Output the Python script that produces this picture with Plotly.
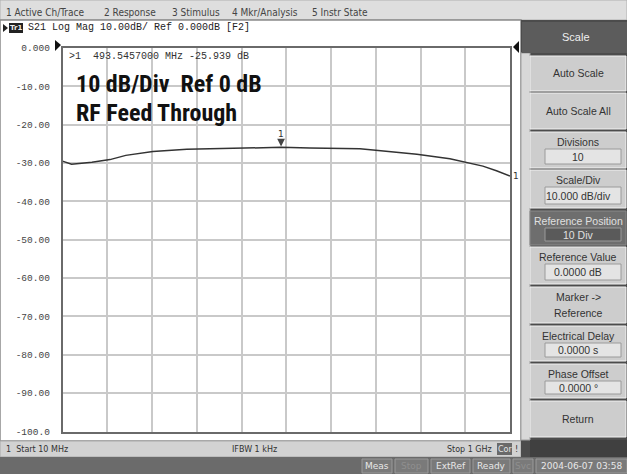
import plotly.graph_objects as go

# ---------------- data ----------------
freq_mhz = [10, 30, 75, 115, 150, 185, 210, 285, 387, 493.5, 557, 616, 668, 697, 727, 794, 867, 940, 970, 1000]
s21_db = [-29.5, -30.3, -29.8, -29.1, -28.0, -27.4, -27.0, -26.4, -26.1, -25.9, -26.1, -26.3, -26.3, -26.6, -26.9, -27.7, -28.9, -30.8, -32.0, -33.4]
marker_freq = 493.5457
marker_db = -25.939
y_tick_vals = [0, -10, -20, -30, -40, -50, -60, -70, -80, -90, -100]
y_tick_text = ["0.000", "-10.00", "-20.00", "-30.00", "-40.00", "-50.00", "-60.00", "-70.00", "-80.00", "-90.00", "-100.0"]
menu_items = ["1 Active Ch/Trace", "2 Response", "3 Stimulus", "4 Mkr/Analysis", "5 Instr State"]
menu_x = [4, 102, 170, 230, 310]

W, H = 627, 474
def X(px):
    return px / W
def Y(py):
    return 1 - py / H

shapes = []
annotations = []

def rect(x0, y0, x1, y1, fill, line=None, lw=1, layer="below"):
    shapes.append(dict(type="rect", xref="paper", yref="paper", x0=X(x0), x1=X(x1), y0=Y(y1), y1=Y(y0),
                       fillcolor=fill, line=dict(color=line or fill, width=lw if line else 0), layer=layer))

def text(x, y, t, size=10, color="#333", family="DejaVu Sans", xanchor="left", bold=False):
    if bold:
        t = "<b>" + t + "</b>"
    annotations.append(dict(xref="paper", yref="paper", x=X(x), y=Y(y), text=t, showarrow=False,
                            xanchor=xanchor, yanchor="middle", font=dict(size=size, color=color, family=family)))

# menu bar
rect(0, 0, 627, 20, "#dedede", "#b0b0b0")
for x, t in zip(menu_x, menu_items):
    text(x, 12, t, size=10, color="#444", family="DejaVu Sans Condensed, DejaVu Sans")

# chart panel
rect(0, 20, 521, 441, "#ffffff", "#8a8a8a", 1.5)
# status bar
rect(0, 441, 521, 457, "#d2d2d2", "#a8a8a8")
text(4, 449, "1  Start 10 MHz", size=8, color="#333")
text(230, 449, "IFBW 1 kHz", size=8, color="#333")
text(494, 449, "Stop 1 GHz", size=8, color="#333", xanchor="right")
rect(497, 443, 512, 455, "#6a6a6a")
text(504.5, 449, "Cor", size=8, color="#e8e8e8", xanchor="center")
text(516, 449, "!", size=8, color="#333", xanchor="center")

# bottom dark bar
rect(0, 457, 627, 474, "#6b6b6b")
boxes = [(362, 392, "Meas", "#e8e8e8"), (395, 428, "Stop", "#8f8f8f"), (431, 470, "ExtRef", "#e8e8e8"),
         (473, 510, "Ready", "#e8e8e8"), (513, 533, "Svc", "#8f8f8f"), (536, 627, "2004-06-07 03:58", "#e8e8e8")]
for x0, x1, t, c in boxes:
    rect(x0, 459, x1, 473, "#7a7a7a", "#9a9a9a")
    text((x0 + x1) / 2, 466, t, size=9, color=c, xanchor="center")

# right soft-key panel
rect(521, 20, 627, 457, "#4c4c4c")
rect(521, 53, 530, 440, "#d8d8d8", "#a0a0a0")
rect(522, 22, 627, 53, "#5c5c5c")
text(576, 37, "Scale", size=11, color="#f0f0f0", xanchor="center", family="Liberation Sans")

buttons = [
    (56, 91, ["Auto Scale"], None, False),
    (93, 129, ["Auto Scale All"], None, False),
    (132, 168, ["Divisions"], "10", False),
    (170, 208, ["Scale/Div"], "10.000 dB/div", False),
    (211, 245, ["Reference Position"], "10 Div", True),
    (247, 284, ["Reference Value"], "0.0000 dB", False),
    (287, 323, ["Marker ->", "Reference"], None, False),
    (326, 361, ["Electrical Delay"], "0.0000 s", False),
    (364, 398, ["Phase Offset"], "0.0000 °", False),
    (401, 437, ["Return"], None, False),
]
bf = "Liberation Sans"
for y0, y1, labels, val, dark in buttons:
    fill = "#6e6e6e" if dark else "#cdcdcd"
    tc = "#e0e0e0" if dark else "#333"
    rect(530, y0, 626, y1, fill, "#f2f2f2" if not dark else "#8a8a8a", 1)
    cx = 578
    if val is None:
        if len(labels) == 1:
            text(cx, (y0 + y1) / 2, labels[0], size=10.5, color=tc, xanchor="center", family=bf)
        else:
            text(cx, y0 + 10, labels[0], size=10.5, color=tc, xanchor="center", family=bf)
            text(cx, y0 + 26, labels[1], size=10.5, color=tc, xanchor="center", family=bf)
    else:
        text(cx, y0 + 10, labels[0], size=10.5, color=tc, xanchor="center", family=bf)
        rect(545, y0 + 17, 621, y1 - 4, "#5a5a5a" if dark else "#e4e4e4", "#9a9a9a")
        text(cx, (y0 + 17 + y1 - 4) / 2, val, size=10.5, color=tc, xanchor="center", family=bf)
rect(530, 440, 627, 457, "#404040")

# header line
shapes.append(dict(type="path", xref="paper", yref="paper",
                   path=f"M {X(3)},{Y(24)} L {X(8)},{Y(28)} L {X(3)},{Y(32)} Z", fillcolor="#222", line=dict(width=0)))
rect(9, 23, 23, 33, "#222")
text(16, 28, "Tr1", size=7, color="#eee", xanchor="center", bold=True)
text(26, 28, "S21 Log Mag 10.00dB/ Ref 0.000dB [F2]", size=10, color="#222", family="Liberation Mono, DejaVu Sans Mono")

# reference position triangles
shapes.append(dict(type="path", xref="paper", yref="paper",
                   path=f"M {X(55)},{Y(40)} L {X(61)},{Y(45)} L {X(55)},{Y(51)} Z", fillcolor="#111", line=dict(width=0), layer="above"))
shapes.append(dict(type="path", xref="paper", yref="paper",
                   path=f"M {X(519)},{Y(41)} L {X(513)},{Y(47)} L {X(519)},{Y(53)} Z", fillcolor="#111", line=dict(width=0), layer="above"))

# marker readout and labels
text(67, 57, ">1  493.5457000 MHz -25.939 dB", size=10, color="#333", family="Liberation Mono, DejaVu Sans Mono")
big_font = "Liberation Sans Narrow, Arial Narrow, Roboto Condensed, Liberation Sans"
text(74, 84, "10 dB/Div  Ref 0 dB", size=24, color="#111", family=big_font, bold=True)
text(74, 113, "RF Feed Through", size=24, color="#111", family=big_font, bold=True)

# trace
fig = go.Figure()
fig.add_trace(go.Scatter(x=freq_mhz, y=s21_db, mode="lines", line=dict(color="#333333", width=1.5),
                         hoverinfo="skip", showlegend=False))
# marker: arrow pointing down at the trace point, with its number above
annotations.append(dict(x=marker_freq, y=marker_db, xref="x", yref="y", text="1", showarrow=True,
                        ax=0, ay=-13, arrowhead=2, arrowsize=1.3, arrowwidth=1.2, arrowcolor="#444",
                        standoff=1, font=dict(size=9, color="#333", family="DejaVu Sans")))
annotations.append(dict(x=freq_mhz[-1], y=s21_db[-1], xref="x", yref="y", text="1", showarrow=False,
                        xanchor="left", xshift=1, font=dict(size=9, color="#333", family="DejaVu Sans")))
# bottom marker indicator
fig.add_trace(go.Scatter(x=[marker_freq], y=[-101.4], mode="markers", cliponaxis=False,
                         marker=dict(symbol="triangle-up", size=9, color="#111"), showlegend=False, hoverinfo="skip"))

fig.update_layout(
    width=W, height=H, margin=dict(l=0, r=0, t=0, b=0, autoexpand=False),
    paper_bgcolor="#ffffff", plot_bgcolor="#ffffff",
    shapes=shapes, annotations=annotations,
    xaxis=dict(domain=[X(62.5), X(510)], range=[10, 1000], tick0=10, dtick=99, showticklabels=False,
               showgrid=True, gridcolor="#c9c9c9", gridwidth=1.5, zeroline=False, automargin=False,
               showline=True, mirror=True, linecolor="#6a6a6a", linewidth=1.5, ticks=""),
    yaxis=dict(domain=[Y(431.5), Y(48)], range=[-100, 0], tickvals=y_tick_vals, ticktext=y_tick_text,
               showgrid=True, gridcolor="#c9c9c9", gridwidth=1.5, zeroline=False, automargin=False,
               showline=True, mirror=True, linecolor="#6a6a6a", linewidth=1.5, ticks="",
               ticklabelstandoff=9, tickfont=dict(size=9.5, color="#444", family="Liberation Mono, DejaVu Sans Mono")),
)

fig.write_html("out.html", config={"displayModeBar": False},
               post_script="document.body.style.margin='0';document.body.style.overflow='hidden';")
